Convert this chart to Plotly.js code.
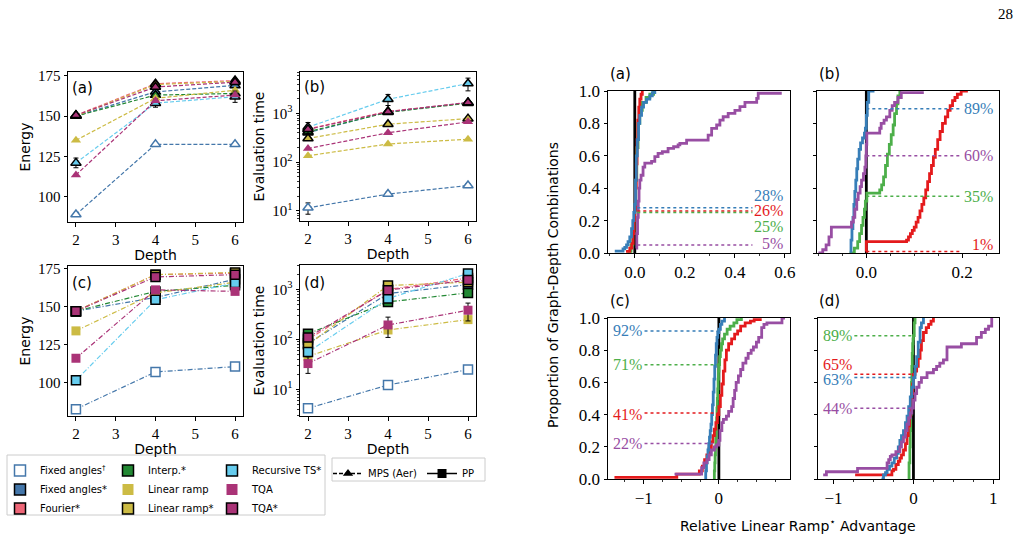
<!DOCTYPE html>
<html>
<head>
<meta charset="utf-8">
<script src="https://cdn.plot.ly/plotly-3.0.1.min.js"></script>
<style>html,body{margin:0;padding:0;background:#fff}#chart{width:1023px;height:542px}</style>
</head>
<body>
<div id="chart"></div>
<script>
// ---------- Left block: energy and evaluation time against depth ----------
const depths = [2, 4, 6];

const methodNames = ['Fixed angles<sup>†</sup>', 'Fixed angles*', 'Fourier*', 'Interp.*',
  'Linear ramp', 'Linear ramp*', 'Recursive TS*', 'TQA', 'TQA*'];

// MPS (Aer) simulator, one row per method (same order as methodNames)
const energyMps = [
  [89, 132.5, 132.5],
  [150, 165, 169],
  [150.5, 170, 172],
  [150, 163, 164],
  [135, 161, 166],
  [150, 169.5, 171.5],
  [121, 158, 162],
  [113.5, 159.5, 163],
  [150.5, 168, 171]
];
const energyMpsErr = [null, null, null, null, null, null, [3, 2.5, 3.5], null, null];

const timeMps = [
  [11.5, 22, 33],
  [400, 1080, 1650],
  [480, 1100, 1650],
  [420, 1050, 1620],
  [135, 235, 295],
  [305, 600, 780],
  [520, 1950, 4100],
  [190, 400, 670],
  [470, 1080, 1680]
];
const timeMpsErr = [[3, 2, 3], null, null, null, null, null, [130, 500, 1200], null, null];

// PP simulator
const energyPp = [
  [82.5, 107, 110.5],
  [147, 156, 168],
  [147, 171, 172],
  [147, 160, 164],
  [134, 159, 166],
  [147, 171, 172.5],
  [101.5, 154.5, 165.5],
  [116, 161, 160],
  [147, 169.5, 171]
];
const energyPpErr = [null, null, null, null, null, null, null, null, null];

const timePp = [
  [4.2, 12.3, 25],
  [83, 830, 1250],
  [100, 1000, 1700],
  [130, 565, 855],
  [46, 155, 250],
  [79, 1200, 1400],
  [56, 660, 2090],
  [33, 195, 385],
  [110, 970, 1540]
];
const timePpErr = [null, [10, 250, 150], null, null, null, null, null, [12, 85, 150], null];

// ---------- Right block: cumulative distributions of the advantage ----------
// (a)
const cdfA_blue_x = [-0.08, -0.047, -0.04, -0.033, -0.027, -0.02, -0.013, -0.008, -0.004, 0.0, 0.003, 0.006, 0.01, 0.015, 0.02, 0.027, 0.035, 0.047, 0.06, 0.07, 0.08];
const cdfA_blue_y = [0.012, 0.025, 0.035, 0.05, 0.07, 0.1, 0.15, 0.2, 0.25, 0.3, 0.45, 0.6, 0.7, 0.8, 0.85, 0.9, 0.93, 0.95, 0.97, 0.99, 1.0];
const cdfA_red_x = [-0.035, -0.02, -0.012, -0.007, -0.003, 0.0, 0.003, 0.006, 0.009, 0.012, 0.016, 0.02, 0.025, 0.03];
const cdfA_red_y = [0.01, 0.03, 0.06, 0.12, 0.2, 0.27, 0.4, 0.55, 0.7, 0.82, 0.9, 0.95, 0.98, 1.0];
const cdfA_green_x = [-0.03, -0.015, -0.008, -0.003, 0.0, 0.004, 0.008, 0.013, 0.02, 0.03, 0.045, 0.06, 0.075];
const cdfA_green_y = [0.01, 0.05, 0.12, 0.2, 0.26, 0.45, 0.65, 0.8, 0.88, 0.93, 0.96, 0.98, 1.0];
const cdfA_purple_x = [0.004, 0.008, 0.011, 0.014, 0.017, 0.02, 0.025, 0.033, 0.04, 0.067, 0.08, 0.093, 0.11, 0.133, 0.155, 0.173, 0.18, 0.207, 0.293, 0.307, 0.327, 0.34, 0.353, 0.373, 0.4, 0.42, 0.44, 0.487, 0.493, 0.587];
const cdfA_purple_y = [0.03, 0.12, 0.22, 0.32, 0.4, 0.45, 0.48, 0.53, 0.555, 0.565, 0.595, 0.615, 0.625, 0.646, 0.656, 0.667, 0.677, 0.697, 0.728, 0.769, 0.79, 0.82, 0.841, 0.862, 0.88, 0.903, 0.93, 0.955, 0.986, 0.986];
// (b)
const cdfB_blue_x = [-0.035, -0.032, -0.03, -0.028, -0.026, -0.024, -0.022, -0.02, -0.018, -0.015, -0.012, -0.008, -0.004, -0.002, 0.0, 0.002, 0.005, 0.017];
const cdfB_blue_y = [0.01, 0.08, 0.15, 0.22, 0.3, 0.38, 0.45, 0.52, 0.58, 0.64, 0.68, 0.71, 0.74, 0.77, 0.85, 0.93, 1.0, 1.0];
const cdfB_red_x = [-0.001, 0.0, 0.084, 0.088, 0.092, 0.096, 0.1, 0.104, 0.108, 0.112, 0.116, 0.12, 0.124, 0.128, 0.132, 0.136, 0.14, 0.144, 0.149, 0.154, 0.159, 0.165, 0.17, 0.175, 0.18, 0.185, 0.19, 0.198, 0.212];
const cdfB_red_y = [0.01, 0.07, 0.08, 0.1, 0.12, 0.14, 0.16, 0.19, 0.22, 0.26, 0.3, 0.34, 0.39, 0.44, 0.49, 0.54, 0.59, 0.64, 0.7, 0.75, 0.8, 0.84, 0.88, 0.91, 0.94, 0.96, 0.98, 1.0, 1.0];
const cdfB_green_x = [-0.035, -0.025, -0.018, -0.014, -0.01, -0.007, -0.004, -0.002, 0.001, 0.028, 0.032, 0.036, 0.04, 0.044, 0.048, 0.052, 0.056, 0.059, 0.063, 0.066, 0.07];
const cdfB_green_y = [0.0, 0.03, 0.07, 0.12, 0.17, 0.22, 0.27, 0.32, 0.37, 0.39, 0.42, 0.47, 0.54, 0.61, 0.67, 0.73, 0.79, 0.86, 0.92, 0.97, 1.0];
const cdfB_purple_x = [-0.1, -0.091, -0.084, -0.078, -0.073, -0.031, -0.027, -0.024, -0.02, -0.017, -0.013, -0.01, -0.006, -0.003, -0.001, 0.0, 0.001, 0.028, 0.031, 0.037, 0.042, 0.049, 0.054, 0.059, 0.066, 0.073, 0.12];
const cdfB_purple_y = [0.0, 0.02, 0.05, 0.1, 0.16, 0.19, 0.22, 0.27, 0.33, 0.37, 0.41, 0.45, 0.49, 0.53, 0.6, 0.67, 0.74, 0.77, 0.8, 0.82, 0.84, 0.88, 0.91, 0.93, 0.96, 0.99, 0.99];
// (c)
const cdfC_blue_x = [-0.19, -0.175, -0.165, -0.155, -0.145, -0.135, -0.125, -0.115, -0.105, -0.095, -0.085, -0.075, -0.065, -0.055, -0.045, -0.035, -0.025, -0.015, 0.0, 0.02, 0.04, 0.075];
const cdfC_blue_y = [0.0, 0.05, 0.1, 0.14, 0.18, 0.22, 0.26, 0.3, 0.34, 0.4, 0.46, 0.54, 0.62, 0.7, 0.77, 0.84, 0.88, 0.91, 0.93, 0.96, 0.98, 1.0];
const cdfC_red_x = [-1.39, -0.56, -0.26, -0.22, -0.19, -0.16, -0.13, -0.1, -0.08, -0.06, -0.04, -0.02, 0.0, 0.02, 0.04, 0.06, 0.08, 0.1, 0.13, 0.17, 0.21, 0.25, 0.29, 0.35, 0.42, 0.47, 0.57];
const cdfC_red_y = [0.01, 0.03, 0.05, 0.08, 0.12, 0.15, 0.19, 0.23, 0.27, 0.31, 0.35, 0.4, 0.45, 0.52, 0.59, 0.67, 0.74, 0.8, 0.84, 0.87, 0.9, 0.92, 0.95, 0.97, 0.98, 0.99, 0.99];
const cdfC_green_x = [-0.065, -0.06, -0.055, -0.05, -0.045, -0.04, -0.035, -0.03, -0.025, -0.02, -0.015, -0.01, -0.005, 0.0, 0.01, 0.02, 0.035, 0.05, 0.075, 0.11, 0.15, 0.2, 0.24, 0.3];
const cdfC_green_y = [0.0, 0.05, 0.1, 0.15, 0.2, 0.26, 0.32, 0.38, 0.44, 0.5, 0.56, 0.62, 0.67, 0.71, 0.76, 0.8, 0.84, 0.87, 0.9, 0.93, 0.95, 0.97, 0.99, 1.0];
const cdfC_purple_x = [-0.59, -0.23, -0.2, -0.16, -0.13, -0.1, -0.06, -0.03, 0.0, 0.015, 0.04, 0.06, 0.1, 0.13, 0.17, 0.19, 0.21, 0.23, 0.26, 0.29, 0.32, 0.36, 0.39, 0.43, 0.46, 0.5, 0.53, 0.57, 0.6, 0.64, 0.84, 0.88];
const cdfC_purple_y = [0.03, 0.07, 0.1, 0.12, 0.15, 0.18, 0.2, 0.21, 0.24, 0.3, 0.35, 0.37, 0.39, 0.42, 0.45, 0.5, 0.55, 0.6, 0.64, 0.68, 0.72, 0.75, 0.78, 0.8, 0.82, 0.85, 0.88, 0.94, 0.96, 0.97, 1.0, 1.0];
// (d)
const cdfD_blue_x = [-0.4, -0.375, -0.35, -0.33, -0.3, -0.27, -0.24, -0.21, -0.19, -0.17, -0.15, -0.125, -0.1, -0.08, -0.06, -0.04, -0.02, 0.0, 0.02, 0.04, 0.06, 0.083, 0.1, 0.125];
const cdfD_blue_y = [0.0, 0.025, 0.04, 0.06, 0.08, 0.1, 0.13, 0.16, 0.2, 0.24, 0.27, 0.3, 0.35, 0.39, 0.45, 0.51, 0.57, 0.63, 0.7, 0.76, 0.85, 0.94, 0.97, 1.0];
const cdfD_red_x = [-0.73, -0.27, -0.25, -0.22, -0.19, -0.17, -0.15, -0.125, -0.1, -0.08, -0.065, -0.05, -0.035, -0.02, -0.01, 0.0, 0.02, 0.04, 0.06, 0.083, 0.1, 0.125, 0.16, 0.19, 0.22, 0.25];
const cdfD_red_y = [0.025, 0.05, 0.06, 0.09, 0.11, 0.13, 0.15, 0.18, 0.22, 0.27, 0.33, 0.39, 0.46, 0.53, 0.59, 0.65, 0.67, 0.7, 0.75, 0.8, 0.86, 0.91, 0.94, 0.96, 0.98, 1.0];
const cdfD_green_x = [-0.065, -0.055, -0.045, -0.04, -0.035, -0.03, -0.025, -0.02, -0.015, -0.01, -0.005, 0.0, 0.01, 0.02];
const cdfD_green_y = [0.0, 0.1, 0.2, 0.3, 0.4, 0.5, 0.6, 0.7, 0.78, 0.84, 0.87, 0.89, 0.97, 1.0];
const cdfD_purple_x = [-1.13, -1.09, -0.7, -0.33, -0.31, -0.29, -0.27, -0.22, -0.17, -0.15, -0.125, -0.1, -0.08, -0.06, -0.04, -0.02, 0.0, 0.02, 0.04, 0.07, 0.1, 0.17, 0.25, 0.29, 0.33, 0.375, 0.42, 0.6, 0.79, 0.85, 0.9, 0.94, 0.98];
const cdfD_purple_y = [0.025, 0.045, 0.066, 0.1, 0.12, 0.14, 0.15, 0.17, 0.2, 0.23, 0.26, 0.3, 0.34, 0.38, 0.41, 0.44, 0.49, 0.53, 0.57, 0.6, 0.63, 0.66, 0.68, 0.7, 0.72, 0.74, 0.82, 0.84, 0.88, 0.91, 0.93, 0.95, 1.0];

// Percentages marked by the dotted guides, per panel
const pctA = [28, 26, 25, 5];   // blue, red, green, purple
const pctB = [89, 60, 35, 1];   // blue, purple, green, red
const pctC = [92, 71, 41, 22];  // blue, green, red, purple
const pctD = [89, 65, 63, 44];  // green, red, blue, purple

// ---------- styling ----------
const tol = {blue: '#4477AA', cyan: '#66CCEE', green: '#228833', yellow: '#CCBB44', red: '#EE6677', purple: '#AA3377'};
const fills = ['#ffffff', tol.blue, tol.red, tol.green, tol.yellow, tol.yellow, tol.cyan, tol.purple, tol.purple];
const edges = [tol.blue, '#000', '#000', '#000', null, '#000', '#000', null, '#000'];
const lineColors = [tol.blue, tol.blue, tol.red, tol.green, tol.yellow, tol.yellow, tol.cyan, tol.purple, tol.purple];
const set1 = {blue: '#377EB8', red: '#E41A1C', green: '#4DAF4A', purple: '#984EA3'};

const serif = 'Liberation Serif, DejaVu Serif, serif';
const sans = 'DejaVu Sans, sans-serif';

const traces = [];

function addMethodPanel(values, errs, ax, symbol, dash) {
  values.forEach((row, i) => {
    const t = {
      x: depths, y: row, xaxis: 'x' + ax, yaxis: 'y' + ax,
      mode: 'lines+markers', showlegend: false, hoverinfo: 'skip',
      line: {color: lineColors[i], width: 1.2, dash: dash},
      marker: {symbol: symbol, size: 9, color: fills[i],
        line: {color: edges[i] || fills[i], width: edges[i] ? 1.5 : 0}}
    };
    if (errs[i]) t.error_y = {type: 'data', array: errs[i], color: '#000', thickness: 1, width: 2.5};
    traces.push(t);
  });
}
addMethodPanel(energyMps, energyMpsErr, '', 'triangle-up', '4px,2px');
addMethodPanel(timeMps, timeMpsErr, '2', 'triangle-up', '4px,2px');
addMethodPanel(energyPp, energyPpErr, '3', 'square', '5px,2px,1px,2px');
addMethodPanel(timePp, timePpErr, '4', 'square', '5px,2px,1px,2px');

// legend entries for the methods (three columns)
const legendIds = ['legend', 'legend', 'legend', 'legend3', 'legend3', 'legend3', 'legend4', 'legend4', 'legend4'];
methodNames.forEach((name, i) => {
  traces.push({
    x: [null], y: [null], mode: 'markers', name: name, legend: legendIds[i],
    marker: {symbol: 'square', size: 11, color: fills[i],
      line: {color: edges[i] || fills[i], width: edges[i] ? 1.5 : 0}}
  });
});
traces.push({x: [null], y: [null], mode: 'lines+markers', name: 'MPS (Aer)', legend: 'legend2',
  line: {color: '#000', width: 1.5, dash: '4px,2px'}, marker: {symbol: 'triangle-up', size: 9, color: '#000'}});
traces.push({x: [null], y: [null], mode: 'lines+markers', name: 'PP', legend: 'legend2',
  line: {color: '#000', width: 1.5}, marker: {symbol: 'square', size: 9, color: '#000'}});

// ---------- CDF panels ----------
function stepTrace(xs, ys, color, ax) {
  traces.push({x: xs, y: ys, xaxis: 'x' + ax, yaxis: 'y' + ax, mode: 'lines', line: {shape: 'hv', color: color, width: 2.8},
    showlegend: false, hoverinfo: 'skip'});
}
stepTrace(cdfA_green_x, cdfA_green_y, set1.green, 5);
stepTrace(cdfA_red_x, cdfA_red_y, set1.red, 5);
stepTrace(cdfA_blue_x, cdfA_blue_y, set1.blue, 5);
stepTrace(cdfA_purple_x, cdfA_purple_y, set1.purple, 5);
stepTrace(cdfB_green_x, cdfB_green_y, set1.green, 6);
stepTrace(cdfB_red_x, cdfB_red_y, set1.red, 6);
stepTrace(cdfB_blue_x, cdfB_blue_y, set1.blue, 6);
stepTrace(cdfB_purple_x, cdfB_purple_y, set1.purple, 6);
stepTrace(cdfC_green_x, cdfC_green_y, set1.green, 7);
stepTrace(cdfC_red_x, cdfC_red_y, set1.red, 7);
stepTrace(cdfC_blue_x, cdfC_blue_y, set1.blue, 7);
stepTrace(cdfC_purple_x, cdfC_purple_y, set1.purple, 7);
stepTrace(cdfD_green_x, cdfD_green_y, set1.green, 8);
stepTrace(cdfD_red_x, cdfD_red_y, set1.red, 8);
stepTrace(cdfD_blue_x, cdfD_blue_y, set1.blue, 8);
stepTrace(cdfD_purple_x, cdfD_purple_y, set1.purple, 8);

// dotted guides + percentage labels
const annotations = [];
function guides(pcts, colors, ax, x0, x1, labelX, labelAnchor, labelYs) {
  pcts.forEach((p, i) => {
    traces.push({x: [x0, x1], y: [p / 100, p / 100], xaxis: 'x' + ax, yaxis: 'y' + ax, mode: 'lines',
      line: {color: colors[i], width: 1.5, dash: 'dot'}, showlegend: false, hoverinfo: 'skip'});
    annotations.push({xref: 'x' + ax, yref: 'y' + ax, x: labelX, y: labelYs[i], text: p + '%',
      showarrow: false, xanchor: labelAnchor, yanchor: 'middle',
      font: {family: serif, size: 16, color: colors[i]}});
  });
}
guides(pctA, [set1.blue, set1.red, set1.green, set1.purple], 5, 0.01, 0.47, 0.6, 'right', [0.355, 0.262, 0.165, 0.06]);
guides(pctB, [set1.blue, set1.purple, set1.green, set1.red], 6, 0.0, 0.195, 0.269, 'right', [0.89, 0.6, 0.35, 0.05]);
guides(pctC, [set1.blue, set1.green, set1.red, set1.purple], 7, -0.99, 0.0, -1.43, 'left', [0.92, 0.71, 0.4, 0.22]);
guides(pctD, [set1.green, set1.red, set1.blue, set1.purple], 8, -0.74, 0.0, -1.158, 'left', [0.89, 0.71, 0.62, 0.44]);

// ---------- axes ----------
function px2x(a, b) { return [a / 1023, b / 1023]; }
function px2y(top, bottom) { return [1 - bottom / 542, 1 - top / 542]; }

function ax(extra) {
  return Object.assign({showline: true, mirror: true, linecolor: '#000', linewidth: 1,
    ticks: 'outside', ticklen: 3.5, tickwidth: 1, tickcolor: '#000', showgrid: false, zeroline: false,
    tickfont: {family: serif, size: 15, color: '#000'}, fixedrange: true}, extra);
}
const minorLog = [];
for (let e = 0; e <= 3; e++) for (let m = 2; m <= 9; m++) minorLog.push(m * Math.pow(10, e));
const depthTitle = {text: 'Depth', font: {family: sans, size: 14, color: '#000'}, standoff: 3};
const energyTitle = {text: 'Energy', font: {family: sans, size: 14, color: '#000'}, standoff: 4};
const timeTitle = {text: 'Evaluation time', font: {family: sans, size: 14, color: '#000'}, standoff: 4};
const logTicks = {type: 'log', tickmode: 'array', tickvals: [10, 100, 1000],
  ticktext: ['10<sup>1</sup>', '10<sup>2</sup>', '10<sup>3</sup>'],
  minor: {tickmode: 'array', tickvals: minorLog, ticklen: 2, tickwidth: 0.8, tickcolor: '#000', ticks: 'outside'}};
const depthAxis = {range: [1.8, 6.2], dtick: 1, tick0: 2, title: depthTitle};

function cdfY(extra) {
  return ax(Object.assign({range: [0, 1], dtick: 0.2, tick0: 0, tickformat: '.1f',
    tickfont: {family: serif, size: 17, color: '#000'}}, extra));
}
function cdfX(extra) {
  return ax(Object.assign({tickfont: {family: serif, size: 17, color: '#000'}}, extra));
}
const minorStyle = {ticklen: 2, tickwidth: 0.8, tickcolor: '#000', ticks: 'outside'};

const layout = {
  width: 1023, height: 542, margin: {l: 0, r: 0, t: 0, b: 0, autoexpand: false},
  paper_bgcolor: '#fff', plot_bgcolor: '#fff', showlegend: true,
  font: {family: sans, color: '#000'},
  xaxis: ax(Object.assign({domain: px2x(68, 243), anchor: 'y'}, depthAxis)),
  yaxis: ax({domain: px2y(72, 222), anchor: 'x', range: [84.4, 177.3], tickvals: [100, 125, 150, 175], title: energyTitle}),
  xaxis2: ax(Object.assign({domain: px2x(300, 476), anchor: 'y2'}, depthAxis)),
  yaxis2: ax(Object.assign({domain: px2y(72, 221), anchor: 'x2', range: [0.79, 3.85], title: timeTitle}, logTicks)),
  xaxis3: ax(Object.assign({domain: px2x(68, 243), anchor: 'y3'}, depthAxis)),
  yaxis3: ax({domain: px2y(266, 416), anchor: 'x3', range: [78, 176.7], tickvals: [100, 125, 150, 175], title: energyTitle}),
  xaxis4: ax(Object.assign({domain: px2x(300, 476), anchor: 'y4'}, depthAxis)),
  yaxis4: ax(Object.assign({domain: px2y(265, 416), anchor: 'x4', range: [0.47, 3.49], title: timeTitle}, logTicks)),

  xaxis5: cdfX({domain: px2x(608, 790), anchor: 'y5', range: [-0.107, 0.62], dtick: 0.2, tick0: 0, tickformat: '.1f',
    minor: Object.assign({dtick: 0.1}, minorStyle)}),
  yaxis5: cdfY({domain: px2y(91, 253), anchor: 'x5'}),
  xaxis6: cdfX({domain: px2x(817, 999), anchor: 'y6', range: [-0.103, 0.277], dtick: 0.2, tick0: 0, tickformat: '.1f',
    minor: Object.assign({dtick: 0.05}, minorStyle)}),
  yaxis6: cdfY({domain: px2y(91, 253), anchor: 'x6', showticklabels: false}),
  xaxis7: cdfX({domain: px2x(608, 790), anchor: 'y7', range: [-1.476, 0.947], dtick: 1, tick0: 0,
    minor: Object.assign({dtick: 0.25}, minorStyle)}),
  yaxis7: cdfY({domain: px2y(318, 479), anchor: 'x7'}),
  xaxis8: cdfX({domain: px2x(818, 999), anchor: 'y8', range: [-1.195, 1.071], dtick: 1, tick0: 0,
    minor: Object.assign({dtick: 0.25}, minorStyle)}),
  yaxis8: cdfY({domain: px2y(318, 479), anchor: 'x8', showticklabels: false}),

  legend: {x: 0 / 1023, y: 1 - 456 / 542, xanchor: 'left', yanchor: 'top', bgcolor: 'rgba(0,0,0,0)', borderwidth: 0,
    font: {family: sans, size: 10, color: '#000'}, tracegroupgap: 0, itemclick: false, itemdoubleclick: false},
  legend3: {x: 108 / 1023, y: 1 - 456 / 542, xanchor: 'left', yanchor: 'top', bgcolor: 'rgba(0,0,0,0)', borderwidth: 0,
    font: {family: sans, size: 10, color: '#000'}, tracegroupgap: 0, itemclick: false, itemdoubleclick: false},
  legend4: {x: 212 / 1023, y: 1 - 456 / 542, xanchor: 'left', yanchor: 'top', bgcolor: 'rgba(0,0,0,0)', borderwidth: 0,
    font: {family: sans, size: 10, color: '#000'}, tracegroupgap: 0, itemclick: false, itemdoubleclick: false},
  legend2: {x: 328 / 1023, y: 1 - 459 / 542, xanchor: 'left', yanchor: 'top', orientation: 'h', bgcolor: 'rgba(0,0,0,0)', borderwidth: 0,
    font: {family: sans, size: 10, color: '#000'}, itemclick: false, itemdoubleclick: false},

  shapes: [
    // frames around the legends
    {type: 'rect', xref: 'paper', yref: 'paper', x0: 7 / 1023, x1: 325 / 1023, y0: 1 - 515 / 542, y1: 1 - 455 / 542,
      line: {color: '#cccccc', width: 1}, fillcolor: 'rgba(0,0,0,0)'},
    {type: 'rect', xref: 'paper', yref: 'paper', x0: 332 / 1023, x1: 485 / 1023, y0: 1 - 481 / 542, y1: 1 - 458 / 542,
      line: {color: '#cccccc', width: 1}, fillcolor: 'rgba(0,0,0,0)'}
  ].concat([5, 6, 7, 8].map(k => ({type: 'line', xref: 'x' + k, yref: 'y' + k + ' domain', x0: 0, x1: 0, y0: 0, y1: 1,
    layer: 'below', line: {color: '#000', width: 2.8}}))),

  annotations: annotations.concat([
    {xref: 'paper', yref: 'paper', x: 1015 / 1023, y: 1 - 14 / 542, text: '28', showarrow: false, xanchor: 'right', yanchor: 'middle',
      font: {family: serif, size: 15, color: '#000'}},
    // panel tags, left block
    {xref: 'paper', yref: 'paper', x: 70 / 1023, y: 1 - 88 / 542, text: '(a)', showarrow: false, xanchor: 'left', yanchor: 'middle', font: {family: sans, size: 15}},
    {xref: 'paper', yref: 'paper', x: 302 / 1023, y: 1 - 87 / 542, text: '(b)', showarrow: false, xanchor: 'left', yanchor: 'middle', font: {family: sans, size: 15}},
    {xref: 'paper', yref: 'paper', x: 70 / 1023, y: 1 - 283 / 542, text: '(c)', showarrow: false, xanchor: 'left', yanchor: 'middle', font: {family: sans, size: 15}},
    {xref: 'paper', yref: 'paper', x: 302 / 1023, y: 1 - 283 / 542, text: '(d)', showarrow: false, xanchor: 'left', yanchor: 'middle', font: {family: sans, size: 15}},
    // panel tags, right block
    {xref: 'paper', yref: 'paper', x: 608 / 1023, y: 1 - 74 / 542, text: '(a)', showarrow: false, xanchor: 'left', yanchor: 'middle', font: {family: sans, size: 15}},
    {xref: 'paper', yref: 'paper', x: 817 / 1023, y: 1 - 74 / 542, text: '(b)', showarrow: false, xanchor: 'left', yanchor: 'middle', font: {family: sans, size: 15}},
    {xref: 'paper', yref: 'paper', x: 608 / 1023, y: 1 - 301 / 542, text: '(c)', showarrow: false, xanchor: 'left', yanchor: 'middle', font: {family: sans, size: 15}},
    {xref: 'paper', yref: 'paper', x: 817 / 1023, y: 1 - 301 / 542, text: '(d)', showarrow: false, xanchor: 'left', yanchor: 'middle', font: {family: sans, size: 15}},
    // shared titles of the right block
    {xref: 'paper', yref: 'paper', x: 553 / 1023, y: 1 - 285 / 542, text: 'Proportion of Graph-Depth Combinations', textangle: -90,
      showarrow: false, xanchor: 'center', yanchor: 'middle', font: {family: sans, size: 14}},
    {xref: 'paper', yref: 'paper', x: 798 / 1023, y: 1 - 525 / 542, text: 'Relative Linear Ramp<sup>⋆</sup> Advantage',
      showarrow: false, xanchor: 'center', yanchor: 'middle', font: {family: sans, size: 14}}
  ])
};

Plotly.newPlot('chart', traces, layout, {displayModeBar: false, staticPlot: true});
</script>
</body>
</html>
